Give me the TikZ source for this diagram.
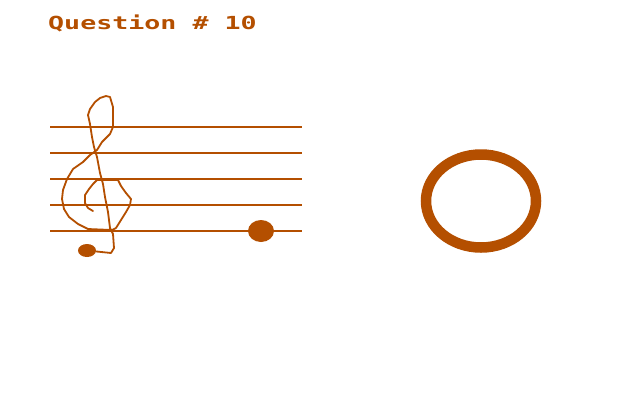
\documentclass[tikz,border=0pt]{standalone}
\usepackage{fontspec}
\usepackage{xcolor}
\usetikzlibrary{shapes.geometric}
\newfontfamily\screenfont{DejaVu Sans Mono}
\definecolor{applebrown}{HTML}{B44F00}

\begin{document}
\begin{tikzpicture}[x=1pt,y=-1pt]
        % Define styles
        \tikzset{
            staffline/.style={draw=applebrown, line width=2.2pt},
            clef/.style={draw=applebrown, line width=1.8pt, line join=round, line cap=round},
            notehead/.style={ellipse, fill=applebrown, inner sep=0pt},
            ring/.style={draw=applebrown, line width=10.5pt},
            title/.style={text=applebrown, font=\screenfont\bfseries\fontsize{18}{18}\selectfont, inner sep=0pt, anchor=base west}
        }
        \useasboundingbox[fill=white] (0,0) rectangle (640,400);

        % Title
        \node[title] (question) at (48,29) {\scalebox{1.48}[1]{Question \# 10}};

        % Staff
        \foreach \y in {127,153,179,205,231}
            \draw[staffline] (50,\y) -- (302,\y);

        % Notes
        \node[notehead, minimum width=26pt, minimum height=22pt] (wholenote) at (261,231) {};
        \node[notehead, minimum width=18pt, minimum height=13pt] (clefdot) at (87,250.5) {};

        % Treble clef
        \draw[clef] (93,211) -- (88,208) -- (85,203) -- (85,195) -- (89,189) -- (93,184) -- (97,180)
            -- (118,180) -- (121,186) -- (126,193) -- (131,199) -- (130,205) -- (126,212) -- (121,220)
            -- (116,228) -- (112,230) -- (88,229) -- (78,224) -- (69,217) -- (64,209) -- (62,199)
            -- (63,190) -- (67,179) -- (73,169) -- (83,162) -- (90,155) -- (97,150) -- (102,142)
            -- (110,134) -- (113,127) -- (113,107) -- (110,97) -- (106,96) -- (100,98) -- (95,102)
            -- (90,109) -- (88,115) -- (90,124) -- (92,137) -- (94,147) -- (97,157) -- (100,173)
            -- (103,184) -- (105,197) -- (108,212) -- (110,228) -- (113,234) -- (114,248)
            -- (111,253) -- (clefdot);

        % Ring
        \draw[ring] (481,201) ellipse [x radius=55, y radius=46.5];
\end{tikzpicture}
\end{document}
